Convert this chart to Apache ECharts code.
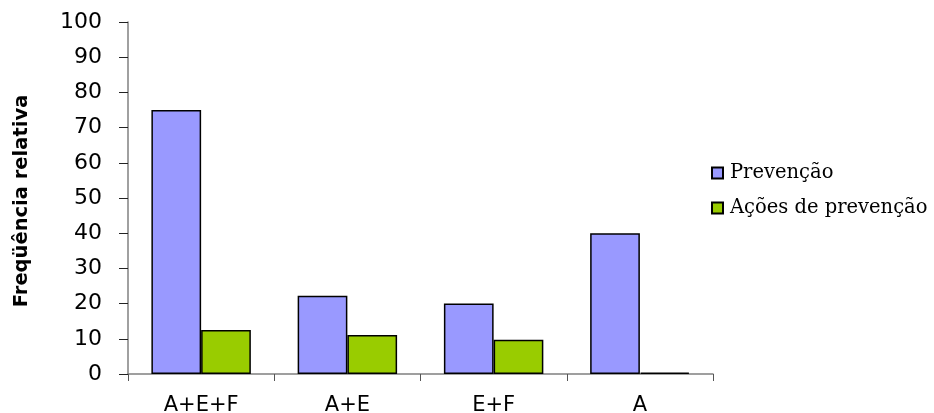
<!DOCTYPE html>
<html>
<head>
<meta charset="utf-8">
<script src="https://cdn.jsdelivr.net/npm/echarts@6/dist/echarts.min.js"></script>
<style>
  html, body { margin: 0; padding: 0; background: #fff; }
  #chart { width: 934px; height: 413px; }
</style>
</head>
<body>
<div id="chart"></div>
<script>
// Categories and relative frequencies (%) for each group
const categories = ['A+E+F', 'A+E', 'E+F', 'A'];
const prevencao = [75, 22.2, 20, 40];
const acoesPrevencao = [12.5, 11.1, 9.7, 0.4];
const yTicks = { min: 0, max: 100, interval: 10 };

const sans = 'DejaVu Sans';
const serif = 'DejaVu Serif';

const chart = echarts.init(document.getElementById('chart'));
chart.setOption({
  animation: false,
  backgroundColor: '#ffffff',
  grid: {
    left: 128, right: 221, top: 22, bottom: 39,
    containLabel: false,
    outerBoundsMode: 'none'
  },
  legend: {
    orient: 'vertical',
    left: 711,
    top: 163,
    padding: 0,
    itemWidth: 11,
    itemHeight: 11,
    itemGap: 15,
    icon: 'rect',
    textStyle: { fontFamily: serif, fontSize: 19.5, color: '#000', padding: [0, 0, 0, 2] },
    data: ['Prevenção', 'Ações de prevenção']
  },
  xAxis: {
    type: 'category',
    data: categories,
    boundaryGap: true,
    axisLine: { lineStyle: { color: '#808080', width: 1.5 } },
    axisTick: { show: true, length: 7, alignWithLabel: false, lineStyle: { color: '#555', width: 1 } },
    axisLabel: { fontFamily: sans, fontSize: 21, color: '#000', margin: 21 }
  },
  yAxis: {
    type: 'value',
    min: yTicks.min,
    max: yTicks.max,
    interval: yTicks.interval,
    name: 'Freqüência relativa',
    nameLocation: 'middle',
    nameGap: 96,
    nameTextStyle: {
      fontFamily: sans, fontSize: 19.5, fontWeight: 'bold', color: '#000',
      padding: [0, 6, 0, 0]
    },
    axisLine: { show: true, lineStyle: { color: '#808080', width: 1.5 } },
    axisTick: { show: true, length: 9, lineStyle: { color: '#222', width: 1 } },
    axisLabel: { fontFamily: sans, fontSize: 22, color: '#000', margin: 26 },
    splitLine: { show: false }
  },
  series: [
    {
      name: 'Prevenção',
      type: 'bar',
      data: prevencao,
      barGap: '0%',
      barCategoryGap: '32%',
      itemStyle: { color: '#9999FF', borderColor: '#000', borderWidth: 1.5 }
    },
    {
      name: 'Ações de prevenção',
      type: 'bar',
      data: acoesPrevencao,
      itemStyle: { color: '#99CC00', borderColor: '#000', borderWidth: 1.5 }
    }
  ]
});
</script>
</body>
</html>
